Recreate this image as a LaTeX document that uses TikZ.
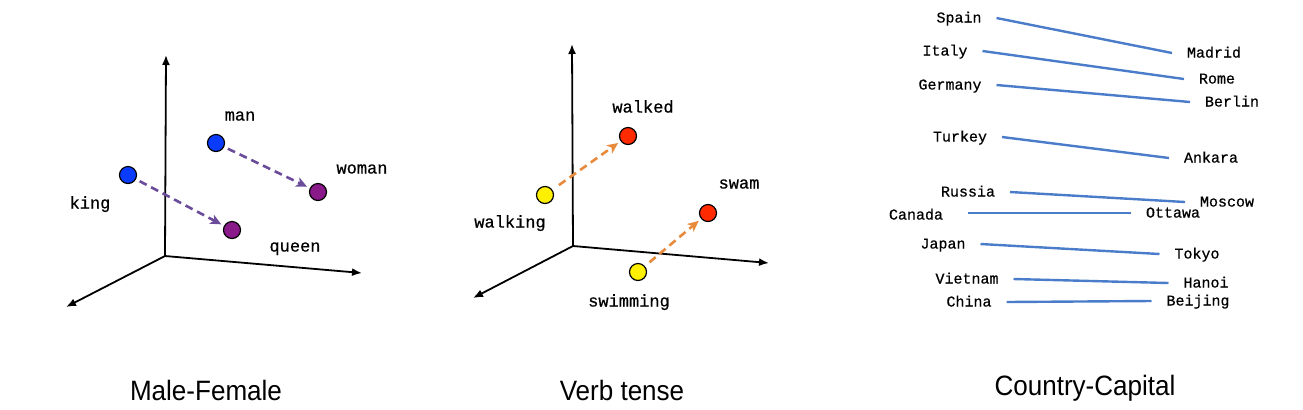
\documentclass[tikz,border=0pt]{standalone}
\usepackage{fontspec}
\setmonofont[FakeBold=0.6]{Liberation Mono}
\newfontfamily\titlefont[FakeStretch=0.93]{Liberation Sans}
\usetikzlibrary{positioning,arrows,arrows.meta,calc}
\definecolor{dotblue}{HTML}{0A3CFF}
\definecolor{dotpurple}{HTML}{8A1A8A}
\definecolor{arrowpurple}{HTML}{6B4C9A}
\definecolor{dotyellow}{HTML}{FFF000}
\definecolor{dotred}{HTML}{FF2A00}
\definecolor{arroworange}{HTML}{E88A3C}
\definecolor{lineblue}{HTML}{4A7CC9}
\tikzset{
    x=0.5pt,
    y=-0.5pt,
    >={Latex[length=5pt,width=4pt]},
    axis/.style = {
        draw,
        line width=0.9pt,
        ->
    },
    dot/.style = {
        draw,
        shape=circle,
        inner sep=0pt,
        minimum size=8.5pt,
        line width=0.6pt
    },
    word/.style = {
        font=\ttfamily\fontsize{8.5}{10}\selectfont,
        inner sep=0pt,
        text height=0.6em,
        text depth=0.15em
    },
    city/.style = {
        font=\ttfamily\fontsize{7.5}{9}\selectfont,
        inner sep=0pt,
        outer sep=7.5pt,
        text height=0.6em,
        text depth=0.15em
    },
    analogy/.style = {
        draw,
        line width=1.3pt,
        dash pattern=on 4pt off 2.5pt,
        -{Stealth[length=5.5pt,width=5pt,inset=1.5pt]},
        shorten <=2pt,
        shorten >=1.5pt
    },
    pair/.style = {
        draw,
        color=lineblue,
        line width=1.2pt
    },
    title/.style = {
        font=\titlefont\fontsize{14}{16}\selectfont,
        inner sep=0pt,
        text height=0.72em,
        text depth=0pt
    },
}
\begin{document}
\begin{tikzpicture}
    \useasboundingbox (0,0) rectangle (1303,409);

    % Male-Female
    \coordinate (o1) at (165,256);
    \coordinate (up1) at (166,55);
    \coordinate (right1) at (362,273);
    \coordinate (left1) at (66,307);
    \path[axis] (o1) -- (up1);
    \path[axis] (o1) -- (right1);
    \path[axis] (o1) -- (left1);

    \node[dot, fill=dotblue] (man) at (216,143) {};
    \node[dot, fill=dotblue] (king) at (128,175) {};
    \node[dot, fill=dotpurple] (woman) at (318,192) {};
    \node[dot, fill=dotpurple] (queen) at (232,230) {};
    \node[word] (manlabel) at (240,116) {man};
    \node[word] (womanlabel) at (362,169) {woman};
    \node[word] (kinglabel) at (90,204) {king};
    \node[word] (queenlabel) at (295,247) {queen};

    \path[analogy, color=arrowpurple] (man) -- (woman);
    \path[analogy, color=arrowpurple] (king) -- (queen);

    % Verb tense
    \coordinate (o2) at (573,246);
    \coordinate (up2) at (572,44);
    \coordinate (right2) at (769,263);
    \coordinate (left2) at (473,298);
    \path[axis] (o2) -- (up2);
    \path[axis] (o2) -- (right2);
    \path[axis] (o2) -- (left2);

    \node[dot, fill=dotred] (walked) at (628,136) {};
    \node[dot, fill=dotyellow] (walking) at (545,195) {};
    \node[dot, fill=dotred] (swam) at (708,213) {};
    \node[dot, fill=dotyellow] (swimming) at (638,272) {};
    \node[word] (walkedlabel) at (643,108) {walked};
    \node[word] (swamlabel) at (739,184) {swam};
    \node[word] (walkinglabel) at (510,223) {walking};
    \node[word] (swimminglabel) at (629,302) {swimming};

    \path[analogy, color=arroworange, shorten <=4pt] (walking) -- (walked);
    \path[analogy, color=arroworange, shorten <=3pt] (swimming) -- (swam);

    % Country-Capital
    \node[city] (spain) at (959,18) {Spain};
    \node[city] (italy) at (945,51) {Italy};
    \node[city] (germany) at (950,85) {Germany};
    \node[city] (turkey) at (960,137) {Turkey};
    \node[city] (russia) at (968,192) {Russia};
    \node[city] (canada) at (916,215) {Canada};
    \node[city] (japan) at (943,244) {Japan};
    \node[city] (vietnam) at (967,279) {Vietnam};
    \node[city] (china) at (969,302) {China};

    \node[city] (madrid) at (1214,53) {Madrid};
    \node[city] (rome) at (1217,79) {Rome};
    \node[city] (berlin) at (1232,102) {Berlin};
    \node[city] (ankara) at (1211,158) {Ankara};
    \node[city] (moscow) at (1227,202) {Moscow};
    \node[city] (ottawa) at (1173,213) {Ottawa};
    \node[city] (tokyo) at (1197,254) {Tokyo};
    \node[city] (hanoi) at (1206,283) {Hanoi};
    \node[city] (beijing) at (1198,301) {Beijing};

    \path[pair] (spain.east) -- (madrid.west);
    \path[pair] (italy.east) -- (rome.west);
    \path[pair] (germany.east) -- (berlin.west);
    \path[pair] (turkey.east) -- (ankara.west);
    \path[pair] (russia.east) -- (moscow.west);
    \path[pair] ([xshift=5pt,yshift=1pt]canada.east) -- (ottawa.west);
    \path[pair] (japan.east) -- (tokyo.west);
    \path[pair] (vietnam.east) -- (hanoi.west);
    \path[pair] (china.east) -- (beijing.west);

    % titles
    \node[title] (maletitle) at (206,393) {Male-Female};
    \node[title] (verbtitle) at (622,393) {Verb tense};
    \node[title] (countrytitle) at (1085,388) {Country-Capital};
\end{tikzpicture}
\end{document}
